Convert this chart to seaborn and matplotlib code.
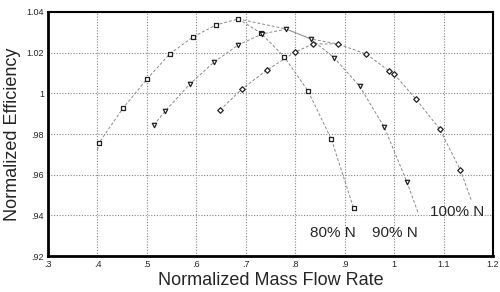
import matplotlib
matplotlib.use("Agg")
import matplotlib.pyplot as plt
import pandas as pd
import seaborn as sns

# ---- data
flow_80 = [0.403, 0.452, 0.500, 0.546, 0.593, 0.640, 0.685, 0.730, 0.778, 0.826, 0.873, 0.918]
eff_80 = [0.9756, 0.9928, 1.0070, 1.0193, 1.0277, 1.0336, 1.0366, 1.0297, 1.0179, 1.0011, 0.9775, 0.9436]

flow_90 = [0.514, 0.537, 0.587, 0.636, 0.685, 0.733, 0.782, 0.832, 0.879, 0.930, 0.980, 1.026]
eff_90 = [0.9844, 0.9913, 1.0046, 1.0154, 1.0238, 1.0292, 1.0316, 1.0267, 1.0174, 1.0036, 0.9834, 0.9564]

flow_100 = [0.648, 0.692, 0.743, 0.800, 0.836, 0.886, 0.944, 0.990, 1.000, 1.044, 1.092, 1.134]
eff_100 = [0.9918, 1.0021, 1.0115, 1.0203, 1.0243, 1.0243, 1.0193, 1.0110, 1.0095, 0.9972, 0.9825, 0.9623]

# fitted curves run a little past the last measured points
fit_start_80 = (0.400, 0.9720)
fit_end_90 = (1.048, 0.9416)
fit_end_100 = (1.156, 0.9475)

# line through the peak efficiencies
peak_flow = [0.685, 0.782, 0.832, 0.886]
peak_eff = [1.0366, 1.0316, 1.0267, 1.0243]

x_ticks = [0.3, 0.4, 0.5, 0.6, 0.7, 0.8, 0.9, 1.0, 1.1, 1.2]
x_labels = [".3", ".4", ".5", ".6", ".7", ".8", ".9", "1", "1.1", "1.2"]
y_ticks = [0.92, 0.94, 0.96, 0.98, 1.00, 1.02, 1.04]
y_labels = [".92", ".94", ".96", ".98", "1", "1.02", "1.04"]

sns.set_style("white")
plt.rcParams["font.family"] = ["Liberation Sans", "DejaVu Sans"]

fig = plt.figure(figsize=(5, 2.92), dpi=100)
ax = fig.add_axes([0.096, 0.123, 0.89, 0.836])

line_kw = dict(color="#8a8a8a", lw=0.7, linestyle=(0, (3, 2)), sort=False, ax=ax)
mark_kw = dict(color="white", edgecolor="#222222", linewidth=0.9, s=10, zorder=5, ax=ax)

curves = [
    ([fit_start_80[0]] + flow_80, [fit_start_80[1]] + eff_80),
    (flow_90 + [fit_end_90[0]], eff_90 + [fit_end_90[1]]),
    (flow_100 + [fit_end_100[0]], eff_100 + [fit_end_100[1]]),
    (peak_flow, peak_eff),
]
for fx, fy in curves:
    sns.lineplot(x=fx, y=fy, **line_kw)

sns.scatterplot(x=flow_80, y=eff_80, marker="s", **mark_kw)
sns.scatterplot(x=flow_90, y=eff_90, marker="v", **mark_kw)
sns.scatterplot(x=flow_100, y=eff_100, marker="D", **dict(mark_kw, s=8))

ax.set_xlim(0.3, 1.2)
ax.set_ylim(0.92, 1.04)
ax.set_xticks(x_ticks)
ax.set_xticklabels(x_labels, fontsize=6.5)
ax.set_yticks(y_ticks)
ax.set_yticklabels(y_labels, fontsize=6.5)
ax.tick_params(length=0, pad=3)
ax.grid(True, color="#888888", linestyle=(0, (1, 1.5)), lw=0.8)

for side in ["left", "bottom"]:
    ax.spines[side].set_linewidth(2.0)
for side in ["top", "right"]:
    ax.spines[side].set_linewidth(1.5)
for sp in ax.spines.values():
    sp.set_color("black")

ax.set_xlabel("Normalized Mass Flow Rate", fontsize=13, labelpad=2)
ax.set_ylabel("Normalized Efficiency", fontsize=13, labelpad=4)

ax.text(0.876, 0.9315, "80% N", fontsize=11, ha="center", va="center")
ax.text(1.001, 0.9315, "90% N", fontsize=11, ha="center", va="center")
ax.text(1.128, 0.9418, "100% N", fontsize=11, ha="center", va="center")

fig.savefig("out.png", dpi=100)
